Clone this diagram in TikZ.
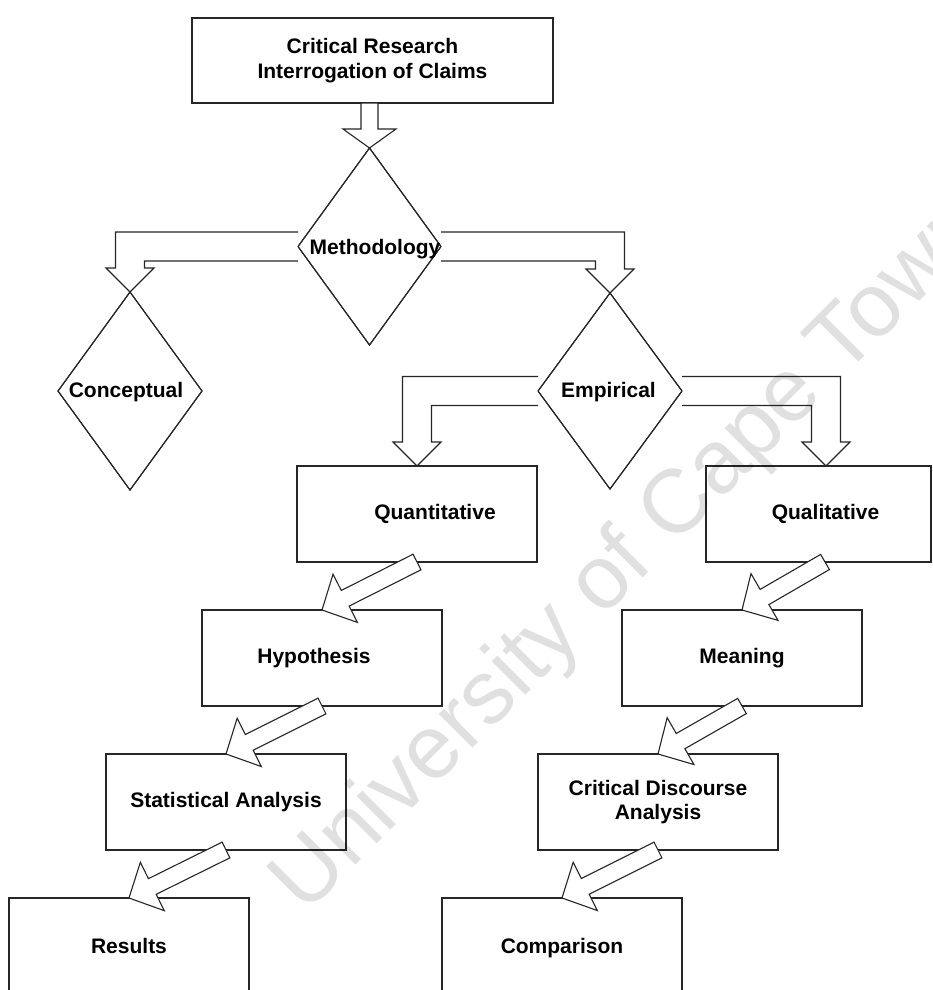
\documentclass[tikz,border=0pt]{standalone}
\usepackage{fontspec}
\setmainfont{Liberation Sans}
\usetikzlibrary{calc,shapes.geometric}

\newcommand{\dgfont}{\fontsize{21}{24.5}\selectfont\bfseries}

% Straight block arrow: #1 tail, #2 tip, #3 half shaft width, #4 half head width, #5 head length
\newcommand{\blockarrow}[5]{%
  \coordinate (babase) at ($(#2)!#5!(#1)$);
  \draw[arrowshape] ($(#1)!#3!90:(#2)$) -- ($(babase)!#3!90:(#2)$) -- ($(babase)!#4!90:(#2)$)
    -- (#2) -- ($(babase)!#4!-90:(#2)$) -- ($(babase)!#3!-90:(#2)$) -- ($(#1)!#3!-90:(#2)$) -- cycle;
}

% Elbow block arrow leaving a node sideways and turning down onto #2;
% #3 is 1 for a turn to the right, -1 for a turn to the left. The tail is left open.
\newcommand{\bentarrow}[3]{%
  \draw[arrowshape] let \p1=(#1), \p2=(#2) in
    (\x1,{\y1+14.5pt}) -- ({\x2+(#3)*14.5pt},{\y1+14.5pt}) -- ({\x2+(#3)*14.5pt},{\y2+24pt})
    -- ({\x2+(#3)*24pt},{\y2+24pt}) -- (\x2,\y2) -- ({\x2-(#3)*24pt},{\y2+24pt})
    -- ({\x2-(#3)*14.5pt},{\y2+24pt}) -- ({\x2-(#3)*14.5pt},{\y1-14.5pt}) -- (\x1,{\y1-14.5pt});
}

\begin{document}
\begin{tikzpicture}[x=1pt, y=-1pt, line width=1.1pt,
  every node/.style={inner sep=0pt, outer sep=0pt},
  box/.style={draw=black!85, minimum width=240pt, minimum height=96pt, align=center, font=\dgfont},
  dia/.style={draw=black!85, diamond, minimum width=144pt, minimum height=197pt},
  lbl/.style={font=\dgfont, align=center},
  arrowshape/.style={draw=black!85, fill=white, line join=miter},
]
\useasboundingbox (0,0) rectangle (933,990);
\clip (0,0) rectangle (933,990);

% boxes
\node[box, minimum width=361pt, minimum height=85pt] (top) at (372.5,60.5)
  {Critical Research\\Interrogation of Claims};
\node[box, label={[lbl, xshift=18pt]center:Quantitative}] (quant) at (417,514) {};
\node[box, minimum width=225pt, label={[lbl, xshift=7pt]center:Qualitative}] (qual) at (818.5,514) {};
\node[box, label={[lbl, xshift=-8pt]center:Hypothesis}] (hyp) at (322,658) {};
\node[box] (mean) at (742,658) {Meaning};
\node[box] (stat) at (226,802) {Statistical Analysis};
\node[box] (cda) at (658,802) {Critical Discourse\\Analysis};
\node[box, minimum height=102pt, label={[lbl, yshift=3pt]center:Results}] (res) at (129,949) {};
\node[box, minimum height=102pt, label={[lbl, yshift=1pt]center:Comparison}] (comp) at (562,949) {};

% decision diamonds (shapes only)
\node[dia, minimum width=143pt] (meth) at (369.5,246.5) {};
\node[dia, minimum height=198pt] (conc) at (130,391) {};
\node[dia, minimum height=196pt] (emp) at (610,391) {};

% connectors
\coordinate (topout) at (meth.north |- top.south);
\blockarrow{topout}{meth.north}{8.5pt}{26.5pt}{19pt}
\bentarrow{meth.west}{conc.north}{-1}
\bentarrow{meth.east}{emp.north}{1}
\coordinate (qualin) at ([xshift=7.5pt]qual.north);
\coordinate (qualout) at ([xshift=6.5pt]qual.south);
\bentarrow{emp.west}{quant.north}{-1}
\bentarrow{emp.east}{qualin}{1}
\blockarrow{quant.south}{hyp.north}{8.75pt}{27pt}{26pt}
\blockarrow{hyp.south}{stat.north}{8.75pt}{27pt}{26pt}
\blockarrow{stat.south}{res.north}{8.75pt}{27pt}{26pt}
\blockarrow{qualout}{mean.north}{8.75pt}{27pt}{26pt}
\blockarrow{mean.south}{cda.north}{8.75pt}{27pt}{26pt}
\blockarrow{cda.south}{comp.north}{8.75pt}{27pt}{26pt}

% diamond outlines on top of the arrow tails, then their texts
\draw[black!85] (meth.north) -- (meth.east) -- (meth.south) -- (meth.west) -- cycle;
\draw[black!85] (conc.north) -- (conc.east) -- (conc.south) -- (conc.west) -- cycle;
\draw[black!85] (emp.north) -- (emp.east) -- (emp.south) -- (emp.west) -- cycle;
\node[lbl] (methtext) at (375,249) {Methodology};
\node[lbl] (conctext) at (126,392) {Conceptual};
\node[lbl] (emptext) at (608.5,392) {Empirical};

% watermark
\node[rotate=45, text=black, text opacity=0.12, font=\fontsize{90}{90}\selectfont] (wm)
  at (632,556) {University of Cape Town};
\end{tikzpicture}
\end{document}
